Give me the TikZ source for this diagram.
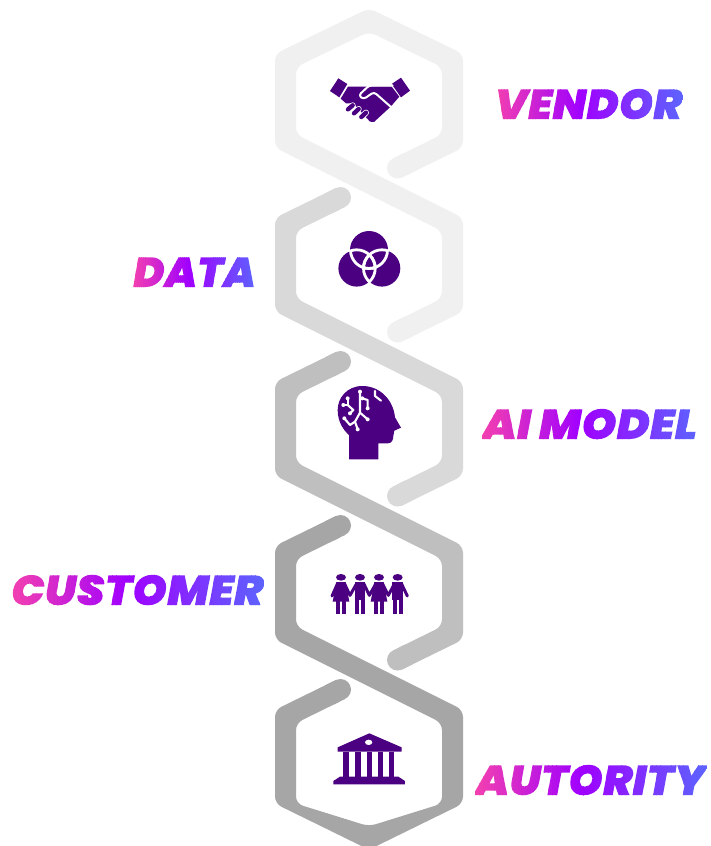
\documentclass[tikz,border=0pt]{standalone}
\usepackage{fontspec}
\newfontfamily\lab{Poppins Black Italic}
\definecolor{iconc}{HTML}{4B0082}
\definecolor{grayA}{HTML}{F0F0F0}
\definecolor{grayB}{HTML}{D9D9D9}
\definecolor{grayC}{HTML}{BFBFBF}
\definecolor{grayD}{HTML}{A6A6A6}
% text filled with a left-to-right gradient: the glyphs clip colour bands
\newcommand\gradtext[1]{%
  \sbox0{#1}%
  \pgfmathsetmacro\gw{\the\wd0*0.99626}%
  \pgfmathsetmacro\dw{\gw/60+0.6}%
  \gdef\bandstr{}%
  \foreach \i in {0,...,59}{%
    \pgfmathsetmacro\tt{\i/60}%
    \pgfmathsetmacro\rr{\tt<0.45 ? 0.949-0.322*\tt/0.45 : 0.627-0.266*(\tt-0.45)/0.55}%
    \pgfmathsetmacro\gg{\tt<0.45 ? 0.247-0.247*\tt/0.45 : 0.392*(\tt-0.45)/0.55}%
    \pgfmathsetmacro\bb{\tt<0.45 ? 0.69+0.31*\tt/0.45 : 1}%
    \pgfmathsetmacro\xx{-\gw+\tt*\gw}%
    \xdef\bandstr{\bandstr\space\rr\space\gg\space\bb\space rg \xx\space -15 \dw\space 65 re f}%
  }%
  \special{pdf:bcontent}\special{pdf:code 7 Tr}#1\special{pdf:content \bandstr}\special{pdf:econtent}%
}
\newcommand\chainlink[2]{%
  \pgfmathsetmacro\U{#2}\pgfmathsetmacro\Ln{#2+80.5}\pgfmathsetmacro\Un{#2+164}\pgfmathsetmacro\Lm{#2+244.5}%
  \pgfmathsetmacro\ca{#2-27}\pgfmathsetmacro\cb{#2+271.5}%
  \fill[#1] (335.88,\ca-9.43) [rounded corners=7pt] -- (275,\U-6.6) -- (275,\Ln+6.6) -- (442,\Un+6.6) -- (442,\Lm-6.6) -- (392.88,\cb-9.43) [sharp corners] -- (402.12,\cb+9.43) [rounded corners=7pt] -- (463,\Lm+6.6) -- (463,\Un-6.6) -- (296,\Ln-6.6) -- (296,\U+6.6) -- (345.12,\ca+9.43) [sharp corners] -- cycle;
  \capleft{#1}{\ca}\capright{#1}{\cb}%
}
\newcommand\capleft[2]{\fill[#1] (340.5,#2) circle (10.5);\draw[#1,line width=21pt] (340.5,#2) -- (329.5,#2+5.4);}
\newcommand\capright[2]{\fill[#1] (397.5,#2) circle (10.5);\draw[#1,line width=21pt] (397.5,#2) -- (408.5,#2-5.4);}
\tikzset{
  gradlabel/.style={font=\lab\fontsize{42}{42}\selectfont,inner sep=0pt,anchor=base west,transform shape},
  icon/.style={fill=iconc,draw=none},
  iconline/.style={draw=iconc,line cap=round,line join=round},
  cut/.style={draw=white,line cap=round,line join=round},
}
\begin{document}
\begin{tikzpicture}[x=1pt,y=-1pt]
\useasboundingbox (0,0) rectangle (710,846);
\fill[white] (0,0) rectangle (710,846);
% last strand, ends with the whole bottom hexagon
\fill[grayD] (335.88,516.07) [rounded corners=7pt] -- (275,545.9) -- (275,639.6) -- (442,723.1) -- (442,803.6) -- (369,826.3) -- (296,803.6) -- (296,723.1) -- (345.12,698.93) [sharp corners] -- (335.88,680.07) [rounded corners=7pt] -- (275,709.9) -- (275,803.6) -- (369,849.7) -- (463,803.6) -- (463,709.9) -- (296,626.4) -- (296,559.1) -- (345.12,534.93) [sharp corners] -- cycle;
\capleft{grayD}{525.5}\capleft{grayD}{689.5}
\chainlink{grayC}{388.5}
\chainlink{grayB}{224.5}
% first strand, starts with the whole top hexagon
\fill[grayA] (392.88,158.57) [rounded corners=7pt] -- (442,134.4) -- (442,67.1) -- (369,31.7) -- (296,67.1) -- (296,134.4) -- (463,217.9) -- (463,311.6) -- (402.12,341.43) [sharp corners] -- (392.88,322.57) [rounded corners=7pt] -- (442,298.4) -- (442,231.1) -- (275,147.6) -- (275,53.9) -- (369,8.3) -- (463,53.9) -- (463,147.6) -- (402.12,177.43) [sharp corners] -- cycle;
\capright{grayA}{168}\capright{grayA}{332}
% handshake
\begin{scope}[shift={(320,60)},x=0.3333pt,y=-0.3333pt]
\fill[icon] (55,55)--(82,72)--(58,112)--(30,93)--cycle;
\fill[icon] (243,53)--(270,92)--(243,112)--(215,72)--cycle;
\fill[icon] (84,80)--(215,80)--(238,110)--(212,140)--(162,186)--(150,185)--(100,130)--(78,130)--(62,116)--cycle;
\foreach \a/\b/\c/\d in {84/148/98/136,102/160/116/147,124/171/138/158}{
 \draw[cut,line width=6pt] (\a,\b)--(\c,\d);
 \draw[iconline,line width=4.4pt] (\a,\b)--(\c,\d);
}
\draw[cut,line width=2pt,rounded corners=3pt] (218,76)--(148,76)--(116,106)--(130,118)--(162,96)--(214,142);
\end{scope}
% venn
\fill[icon] (369,250) circle (19);
\fill[icon] (356.7,268.3) circle (18.3);
\fill[icon] (382,268.3) circle (18.3);
\foreach \cx/\cy/\ox/\oy in {369/250/356.7/268.3,369/250/382/268.3,356.7/268.3/369/250,356.7/268.3/382/268.3,382/268.3/369/250,382/268.3/356.7/268.3}{
 \begin{scope}
 \clip (\ox,\oy) circle (19);
 \draw[white,line width=2.8pt] (\cx,\cy) circle (18.5);
 \end{scope}
}
% head
\begin{scope}[shift={(325,380)},x=0.3333pt,y=-0.3333pt]
\fill[icon] (72,238)--(160,238)--(160,190)--(188,190) .. controls (200,190) and (205,180) .. (205,168)--(208,152)--(228,143)--(210,112) .. controls (205,60) and (165,18) .. (112,18) .. controls (65,18) and (38,55) .. (38,90) .. controls (38,125) and (55,150) .. (72,165)--cycle;
\draw[cut,line width=2.1pt] (105,35)--(105,98)--(128,118);
\draw[cut,line width=2.1pt] (105,98)--(90,125)--(98,148);
\draw[cut,line width=2.1pt] (90,125)--(75,135)--(58,115);
\draw[cut,line width=2.1pt] (68,55)--(68,75)--(55,75);
\draw[cut,line width=2.1pt] (68,75)--(85,90)--(75,100);
\draw[cut,line width=2.1pt] (112,55)--(128,60)--(128,85);
\draw[cut,line width=2.1pt] (150,33)--(150,48)--(168,62);
\foreach \p/\q in {105/35,128/118,98/148,58/115,68/55,55/75,75/100,112/55,128/85}{\fill[white] (\p,\q) circle (6);}
\end{scope}
% people
\begin{scope}[shift={(320,560)},x=0.3333pt,y=-0.3333pt]
\foreach \c in {63,177}{
 \fill[icon] (\c,52) ellipse (15 and 10);
 \fill[icon] (\c-14,66)--(\c+14,66)--(\c+25,125)--(\c-25,125)--cycle;
 \fill[icon] (\c-15,120) rectangle (\c-3,163);
 \fill[icon] (\c+3,120) rectangle (\c+15,163);
}
\foreach \c in {120,233}{
 \fill[icon] (\c,52) ellipse (15 and 10);
 \fill[icon] (\c-16,66) rectangle (\c+16,120);
 \fill[icon] (\c-15,115) rectangle (\c-3,163);
 \fill[icon] (\c+3,115) rectangle (\c+15,163);
}
\draw[iconline,line width=3pt] (52,72)--(36,108);
\draw[iconline,line width=3pt] (74,72)--(90,106)--(108,74);
\draw[iconline,line width=3pt] (132,72)--(148,106)--(166,74);
\draw[iconline,line width=3pt] (188,72)--(205,106)--(222,74);
\draw[iconline,line width=3pt] (245,72)--(262,108);
\end{scope}
% bank
\begin{scope}[shift={(320,720)},x=0.3333pt,y=-0.3333pt]
\fill[icon] (148,40)--(245,82)--(245,95)--(53,95)--(53,82)--cycle;
\fill[white] (146,67) ellipse (11 and 8);
\foreach \a/\b in {70/88,105/122,140/157,175/190,207/223}{\fill[icon] (\a,95) rectangle (\b,172);}
\fill[icon] (60,170)--(235,170)--(255,183)--(255,193)--(40,193)--(40,183)--cycle;
\end{scope}
% labels
\node[gradlabel,xscale=1.04] (vendor) at (494.5,119) {\gradtext{VENDOR}};
\node[gradlabel,xscale=1.005] (data) at (133,287) {\gradtext{DATA}};
\node[gradlabel,xscale=1.065] (aimodel) at (482,439) {\gradtext{AI MODEL}};
\node[gradlabel,xscale=1.055] (customer) at (11,605) {\gradtext{CUSTOMER}};
\node[gradlabel,xscale=1.05] (autority) at (475,795) {\gradtext{AUTORITY}};
\end{tikzpicture}
\end{document}
